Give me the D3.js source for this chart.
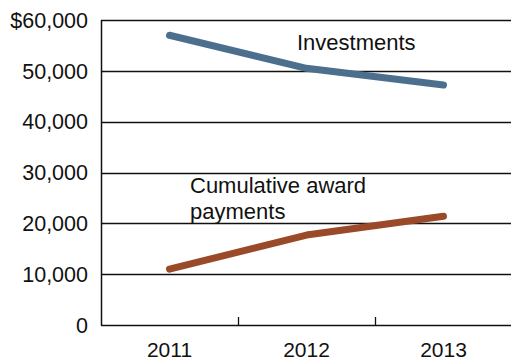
<!DOCTYPE html>
<html>
<head>
<meta charset="utf-8">
<script src="https://cdn.jsdelivr.net/npm/d3@7"></script>
<style>
  html, body { margin: 0; padding: 0; background: #fff; }
  svg { display: block; font-family: "Liberation Sans", Arial, Helvetica, sans-serif; }
</style>
</head>
<body>
<svg id="chart" width="511" height="360"></svg>
<script>
// Fiscal years shown on the x axis
const years = ["2011", "2012", "2013"];
// Dollar amounts per year
const investments = [57000, 50500, 47200];
const awardPayments = [11000, 17700, 21400];
// Y axis ticks
const yTicks = [0, 10000, 20000, 30000, 40000, 50000, 60000];
const yTickLabels = ["0", "10,000", "20,000", "30,000", "40,000", "50,000", "$60,000"];

const svg = d3.select("#chart");
const margin = { top: 20, right: 0, bottom: 35, left: 101 };
const width = 511, height = 360;

const x = d3.scaleBand().domain(years).range([margin.left, width - margin.right + 1]).padding(0);
const y = d3.scaleLinear().domain([0, 60000]).range([height - margin.bottom, margin.top]);

// Horizontal gridlines
svg.append("g")
  .selectAll("line")
  .data(yTicks.filter(d => d > 0))
  .join("line")
  .attr("x1", margin.left).attr("x2", width)
  .attr("y1", d => Math.round(y(d)) + 0.5).attr("y2", d => Math.round(y(d)) + 0.5)
  .attr("stroke", "#111").attr("stroke-width", 1.3);

// Y axis tick labels
svg.append("g")
  .selectAll("text")
  .data(yTicks)
  .join("text")
  .attr("x", 88)
  .attr("y", d => y(d))
  .attr("dy", "0.36em")
  .attr("text-anchor", "end")
  .attr("font-size", 21.5)
  .attr("fill", "#111")
  .text((d, i) => yTickLabels[i]);

// Left axis line
svg.append("line")
  .attr("x1", margin.left + 0.5).attr("x2", margin.left + 0.5)
  .attr("y1", y(60000)).attr("y2", y(0) + 0.5)
  .attr("stroke", "#111").attr("stroke-width", 1.5);

// X axis baseline
svg.append("line")
  .attr("x1", margin.left).attr("x2", width)
  .attr("y1", Math.round(y(0)) + 0.5).attr("y2", Math.round(y(0)) + 0.5)
  .attr("stroke", "#111").attr("stroke-width", 1.5);

// Inner tick marks between year bands
svg.append("g")
  .selectAll("line")
  .data(years.slice(1))
  .join("line")
  .attr("x1", d => Math.round(x(d)) + 0.5).attr("x2", d => Math.round(x(d)) + 0.5)
  .attr("y1", y(0) - 8).attr("y2", y(0))
  .attr("stroke", "#111").attr("stroke-width", 1.3);

// Year labels
svg.append("g")
  .selectAll("text")
  .data(years)
  .join("text")
  .attr("x", d => x(d) + x.bandwidth() / 2)
  .attr("y", 357)
  .attr("text-anchor", "middle")
  .attr("font-size", 21)
  .attr("fill", "#111")
  .text(d => d);

const line = d3.line()
  .x((d, i) => x(years[i]) + x.bandwidth() / 2)
  .y(d => y(d));

svg.append("path")
  .datum(investments)
  .attr("d", line)
  .attr("fill", "none")
  .attr("stroke", "#4d6f8e")
  .attr("stroke-width", 7)
  .attr("stroke-linecap", "round")
  .attr("stroke-linejoin", "round");

svg.append("path")
  .datum(awardPayments)
  .attr("d", line)
  .attr("fill", "none")
  .attr("stroke", "#9a4a28")
  .attr("stroke-width", 7)
  .attr("stroke-linecap", "round")
  .attr("stroke-linejoin", "round");

// Series labels
svg.append("text")
  .attr("x", 297).attr("y", 50)
  .attr("font-size", 22)
  .attr("fill", "#111")
  .text("Investments");

const award = svg.append("text")
  .attr("x", 190).attr("y", 193)
  .attr("font-size", 22)
  .attr("fill", "#111");
award.append("tspan").attr("x", 190).text("Cumulative award");
award.append("tspan").attr("x", 190).attr("dy", 26).text("payments");
</script>
</body>
</html>
